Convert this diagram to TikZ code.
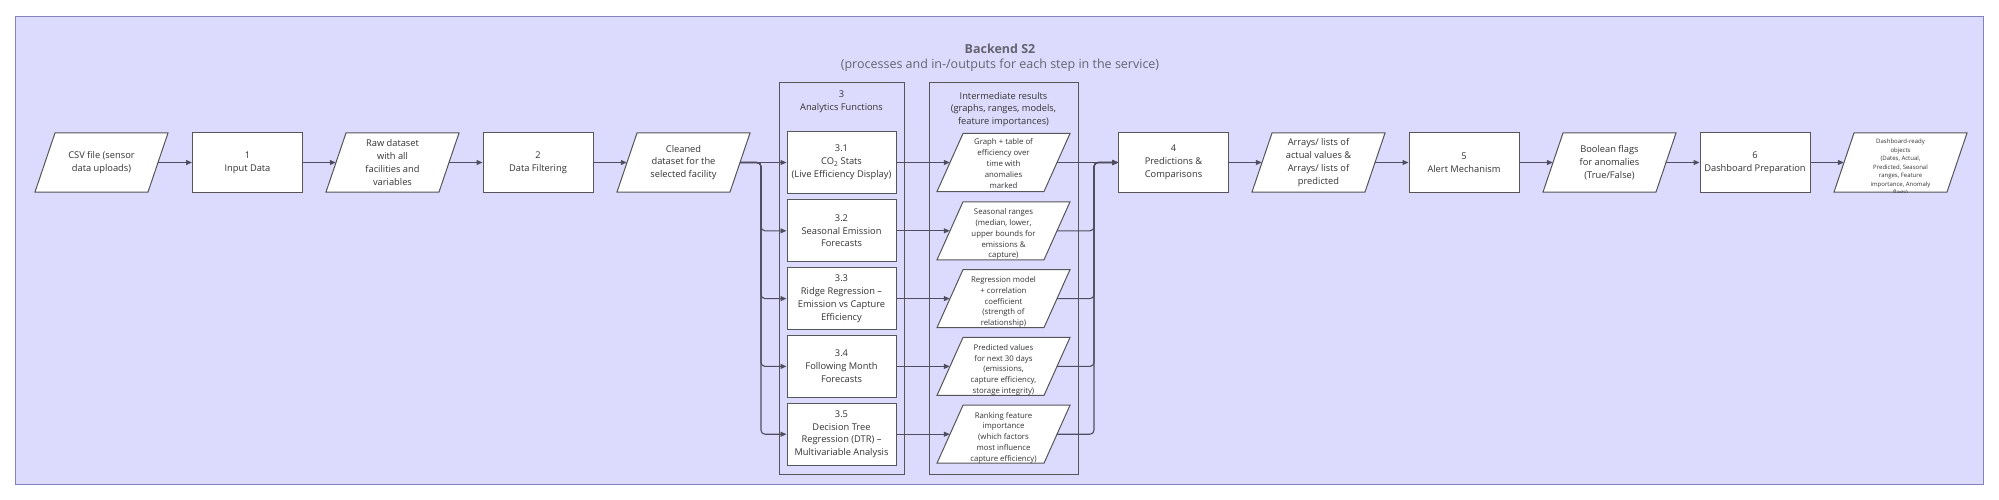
\documentclass[tikz,border=0pt]{standalone}
\usepackage{fontspec}
\setmainfont{Open Sans}
\usetikzlibrary{arrows.meta}
\definecolor{framefill}{RGB}{221,219,253}
\definecolor{framedraw}{RGB}{130,130,190}
\definecolor{boxdraw}{RGB}{85,85,90}
\definecolor{edgecol}{RGB}{78,78,95}
\definecolor{txt}{RGB}{51,51,51}
\definecolor{titlecol}{RGB}{100,100,112}
\tikzset{
  procbox/.style={draw=boxdraw, fill=white, line width=1pt, minimum width=110pt, minimum height=59pt,
    inner sep=0pt, align=center, text=txt, font=\fontsize{9.3}{12.8}\selectfont},
  subbox/.style={procbox, minimum width=109pt, minimum height=62pt},
  container/.style={draw=boxdraw, line width=1pt, inner sep=0pt},
  parashape/.style={draw=boxdraw, fill=white, line width=1pt},
  anchorbox/.style={inner sep=0pt, draw=none},
  mainpara/.style={inner sep=0pt, align=center, text=txt, font=\fontsize{9.3}{12.8}\selectfont},
  midpara/.style={inner sep=0pt, align=center, text=txt, font=\fontsize{7.8}{10.8}\selectfont},
  smallpara/.style={inner sep=0pt, align=center, text=txt, font=\fontsize{6}{8.5}\selectfont},
  header/.style={inner sep=0pt, align=center, text=txt, font=\fontsize{9.3}{12.8}\selectfont},
  flow/.style={draw=edgecol, line width=1.1pt, -{Triangle[length=6pt,width=5pt]}},
  branch/.style={flow, rounded corners=4pt},
}
% #1 name, #2 cx, #3 cy, #4 mid width, #5 height, #6 slant, #7 text style, #8 text shift, #9 text
\newcommand\parallelnode[9]{%
  \pgfmathsetmacro\parL{#2-#4/2}\pgfmathsetmacro\parR{#2+#4/2}%
  \pgfmathsetmacro\parT{#3-#5/2}\pgfmathsetmacro\parB{#3+#5/2}\pgfmathsetmacro\parH{#6/2}%
  \path[parashape] (\parL-\parH,\parB) -- (\parL+\parH,\parT) -- (\parR+\parH,\parT) -- (\parR-\parH,\parB) -- cycle;
  \node[anchorbox, minimum width=#4pt, minimum height=#5pt] (#1) at (#2,#3) {};
  \begin{scope}
    \clip (\parL-\parH,\parB) -- (\parL+\parH,\parT) -- (\parR+\parH,\parT) -- (\parR-\parH,\parB) -- cycle;
    \node[#7] (#1-text) at (#2,#3+#8) {#9};
  \end{scope}
}
\begin{document}
\begin{tikzpicture}[x=1pt,y=-1pt]
\useasboundingbox (0,0) rectangle (1999,500);
\fill[white] (0,0) rectangle (1999,500);
% frame
\node[fill=framefill, draw=framedraw, line width=1.2pt, minimum width=1968pt, minimum height=468pt, inner sep=0pt] (frame) at (999.6,250.5) {};
\node[text=titlecol, font=\fontsize{12.5}{15}\selectfont\bfseries, inner sep=0pt] (title) at (1000,48.5) {Backend S2};
\node[text=titlecol, font=\fontsize{12.5}{15}\selectfont, inner sep=0pt] (subtitle) at (1000,65) {(processes and in-/outputs for each step in the service)};
% containers
\node[container, minimum width=125pt, minimum height=391pt] (c3) at (841.5,278.5) {};
\node[container, minimum width=149pt, minimum height=391pt] (cint) at (1003.5,278.5) {};
\node[header] (h3) at (841.5,101.5) {3\\Analytics Functions};
\node[header] (hint) at (1003.5,109.5) {Intermediate results\\(graphs, ranges, models,\\feature importances)};
% main row
\parallelnode{csv}{101.5}{162.5}{113}{59}{20}{mainpara}{0}{CSV file (sensor\\data uploads)}
\node[procbox] (b1) at (247.5,162.5) {1\\Input Data};
\parallelnode{raw}{392.5}{162.5}{113}{59}{20}{mainpara}{0}{Raw dataset\\with all\\facilities and\\variables}
\node[procbox] (b2) at (538,162.5) {2\\Data Filtering};
\parallelnode{cl}{683.5}{162.5}{113}{59}{20}{mainpara}{0}{Cleaned\\dataset for the\\selected facility}
% analytics sub boxes
\node[subbox] (s1) at (841.5,162.5) {3.1\\CO\textsubscript{2} Stats\\(Live Efficiency Display)};
\node[subbox] (s2) at (841.5,230.8) {3.2\\Seasonal Emission\\Forecasts};
\node[subbox] (s3) at (841.5,298.6) {3.3\\Ridge Regression –\\Emission vs Capture\\Efficiency};
\node[subbox] (s4) at (841.5,366.4) {3.4\\Following Month\\Forecasts};
\node[subbox] (s5) at (841.5,434.2) {3.5\\Decision Tree\\Regression (DTR) –\\Multivariable Analysis};
% intermediate results
\parallelnode{i1}{1003.5}{162.5}{107}{58}{26}{midpara}{1}{Graph + table of\\efficiency over\\time with\\anomalies\\marked}
\parallelnode{i2}{1003.5}{230.8}{107}{58}{26}{midpara}{3.5}{Seasonal ranges\\(median, lower,\\upper bounds for\\emissions \&\\capture)}
\parallelnode{i3}{1003.5}{298.6}{107}{58}{26}{midpara}{3.5}{Regression model\\+ correlation\\coefficient\\(strength of\\relationship)}
\parallelnode{i4}{1003.5}{366.4}{107}{58}{26}{midpara}{3.5}{Predicted values\\for next 30 days\\(emissions,\\capture efficiency,\\storage integrity)}
\parallelnode{i5}{1003.5}{434.2}{107}{58}{26}{midpara}{3.5}{Ranking feature\\importance\\(which factors\\most influence\\capture efficiency)}
% right part
\node[procbox] (b4) at (1173.5,162.5) {4\\Predictions \&\\Comparisons};
\parallelnode{arr}{1318.5}{162.5}{113}{59}{20}{mainpara}{0}{Arrays/ lists of\\actual values \&\\Arrays/ lists of\\predicted}
\node[procbox] (b5) at (1464,162.5) {5\\Alert Mechanism};
\parallelnode{bool}{1609.5}{162.5}{113}{59}{20}{mainpara}{0}{Boolean flags\\for anomalies\\(True/False)}
\node[procbox] (b6) at (1755,162.5) {6\\Dashboard Preparation};
\parallelnode{dash}{1900.5}{162.5}{113}{59}{20}{smallpara}{5}{Dashboard-ready\\objects\\(Dates, Actual,\\Predicted, Seasonal\\ranges, Feature\\importance, Anomaly\\flags)}
% split / merge points
\coordinate (splitL) at (761,162.5);
\coordinate (splitR) at (1094,162.5);
% edges
\draw[flow] (csv.east) -- (b1.west);
\draw[flow] (b1.east) -- (raw.west);
\draw[flow] (raw.east) -- (b2.west);
\draw[flow] (b2.east) -- (cl.west);
\draw[flow] (cl.east) -- (s1.west);
\draw[branch] (cl.east) -- (splitL) |- (s2.west);
\draw[branch] (cl.east) -- (splitL) |- (s3.west);
\draw[branch] (cl.east) -- (splitL) |- (s4.west);
\draw[branch] (cl.east) -- (splitL) |- (s5.west);
\draw[flow] (s1.east) -- (i1.west);
\draw[flow] (s2.east) -- (i2.west);
\draw[flow] (s3.east) -- (i3.west);
\draw[flow] (s4.east) -- (i4.west);
\draw[flow] (s5.east) -- (i5.west);
\draw[flow] (i1.east) -- (b4.west);
\draw[branch] (i2.east) -| (splitR) -- (b4.west);
\draw[branch] (i3.east) -| (splitR) -- (b4.west);
\draw[branch] (i4.east) -| (splitR) -- (b4.west);
\draw[branch] (i5.east) -| (splitR) -- (b4.west);
\draw[flow] (b4.east) -- (arr.west);
\draw[flow] (arr.east) -- (b5.west);
\draw[flow] (b5.east) -- (bool.west);
\draw[flow] (bool.east) -- (b6.west);
\draw[flow] (b6.east) -- (dash.west);
\end{tikzpicture}
\end{document}
